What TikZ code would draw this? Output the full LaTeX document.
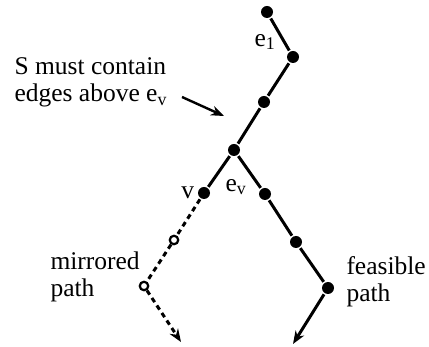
\documentclass[tikz,border=0pt]{standalone}
\usepackage{fontspec}
\setmainfont{Liberation Serif}
\usetikzlibrary{arrows.meta, positioning}

\begin{document}
\begin{tikzpicture}[
    x=1pt, y=-1pt,
    line width=3pt,
    every node/.style={font=\fontsize{25.5}{27}\selectfont},
    dot/.style={circle, fill, inner sep=0pt, minimum size=12pt},
    opendot/.style={circle, draw, fill=white, line width=2.2pt, inner sep=0pt, minimum size=8.5pt},
    >={Stealth[length=13pt, width=10pt]}
]
\useasboundingbox (0,0) rectangle (429,347);

% Nodes placed manually at the pixel grid
\node[dot] (t) at (267,12) {};
\node[dot] (a) at (293,57) {};
\node[dot] (b) at (264,102) {};
\node[dot] (j) at (234,150) {};
\node[dot] (v) at (204,193) {};
\node[opendot] (m1) at (174,240) {};
\node[opendot] (m2) at (144,286) {};
\coordinate (mend) at (181,342);
\node[dot] (f1) at (265,194) {};
\node[dot] (f2) at (296,242) {};
\node[dot] (f3) at (328,288) {};
\coordinate (fend) at (293,344);

% Labels
\node (e1) at (265,42) {e\textsubscript{1}};
\node (ev) at (236,187) {e\textsubscript{v}};
\node[anchor=east, inner sep=1pt] (vl) at (v.west) {v};
\node[anchor=north west, align=left, inner sep=0pt] (S) at (13,56)
    {S must contain\\edges above e\textsubscript{v}};
\coordinate (Sarr) at (224,116);
\node[anchor=north west, align=left, inner sep=0pt] (mir) at (49,250) {mirrored\\path};
\node[anchor=north west, align=left, inner sep=0pt] (fea) at (345,255) {feasible\\path};

% Edges
\draw (t) -- (a) -- (b) -- (j) -- (v);
\draw (j) -- (f1) -- (f2) -- (f3);
\draw[->] (f3) -- (fend);
\draw[dashed, dash pattern=on 5pt off 4pt] (v) -- (m1) -- (m2);
\draw[->, dashed, dash pattern=on 5pt off 4pt] (m2) -- (mend);
\draw[->, line width=2.4pt] (182,97) -- (Sarr);
\end{tikzpicture}
\end{document}
